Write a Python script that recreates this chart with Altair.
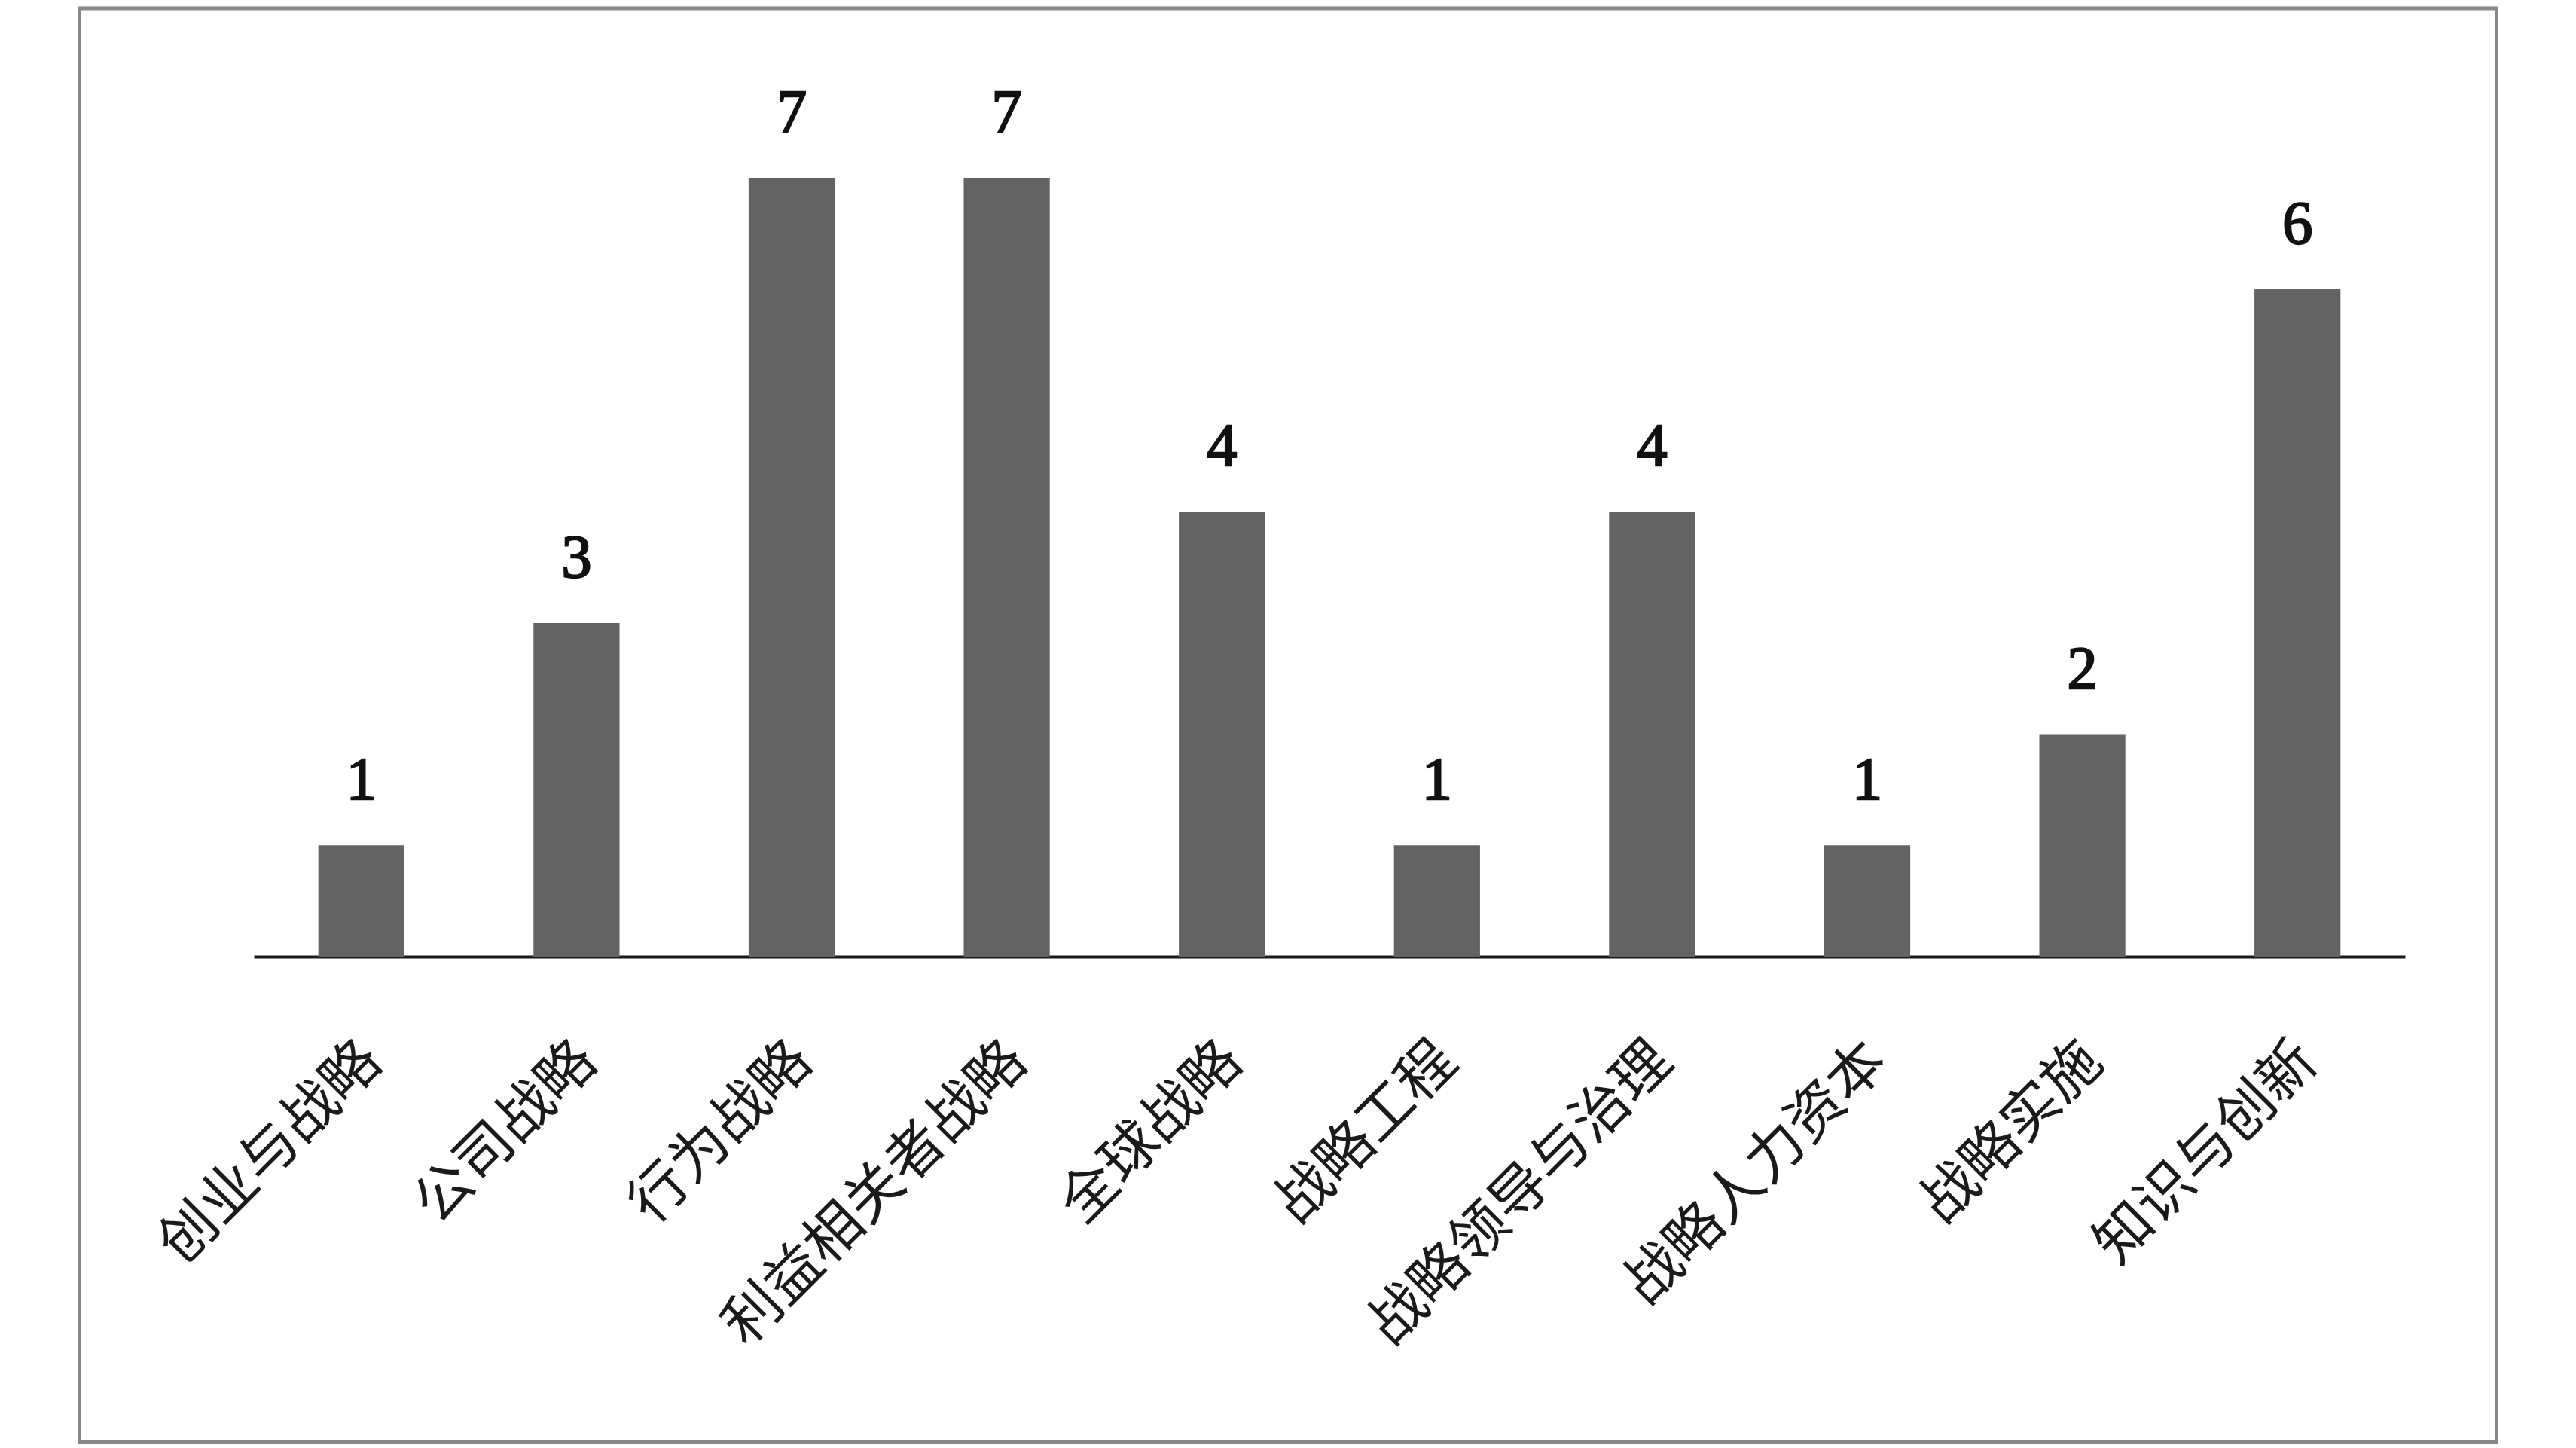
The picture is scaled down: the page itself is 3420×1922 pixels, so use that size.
import altair as alt
import pandas as pd

categories = ["创业与战略", "公司战略", "行为战略", "利益相关者战略", "全球战略",
              "战略工程", "战略领导与治理", "战略人力资本", "战略实施", "知识与创新"]
counts = [1, 3, 7, 7, 4, 1, 4, 1, 2, 6]

df = pd.DataFrame({"category": categories, "count": counts})

W = 3209
H = 1903.5
X0, X1 = 231.5, 3087.5
Y_BASE = 1259
Y_TOP = Y_BASE - 8 * 147.7

x_enc = alt.X(
    "category:N",
    sort=categories,
    scale=alt.Scale(range=[X0, X1], paddingInner=0.6, paddingOuter=0.3),
    axis=alt.Axis(
        title=None,
        labelAngle=-45,
        labelAlign="right",
        labelBaseline="middle",
        labelFont="Noto Sans CJK SC",
        labelFontSize=76,
        labelColor="#1a1a1a",
        labelPadding=126,
        labelOffset=14,
        labelLimit=2000,
        labelOverlap=False,
        ticks=False,
        grid=False,
        domainColor="#1a1a1a",
        domainWidth=4,
        offset=Y_BASE - H,
    ),
)
y_enc = alt.Y("count:Q", scale=alt.Scale(domain=[0, 8], range=[Y_BASE, Y_TOP]), axis=None)

base = alt.Chart(df)
bars = base.mark_bar(color="#636363").encode(x=x_enc, y=y_enc)
labels = base.mark_text(
    dy=-61, baseline="alphabetic", font="Liberation Serif", fontSize=80,
    fontWeight="normal", color="#111111", stroke="#111111", strokeWidth=2.5
).encode(x=alt.X("category:N", sort=categories), y=alt.Y("count:Q"), text="count:Q")

chart = (
    alt.layer(bars, labels)
    .properties(
        width=W, height=H,
        autosize=alt.AutoSizeParams(type="none"),
        padding={"left": 97.5, "top": 3, "right": 5, "bottom": 5},
    )
    .configure_view(stroke="#888888", strokeWidth=5)
)

chart.save("out.html", embed_options={"renderer": "svg", "actions": False})
